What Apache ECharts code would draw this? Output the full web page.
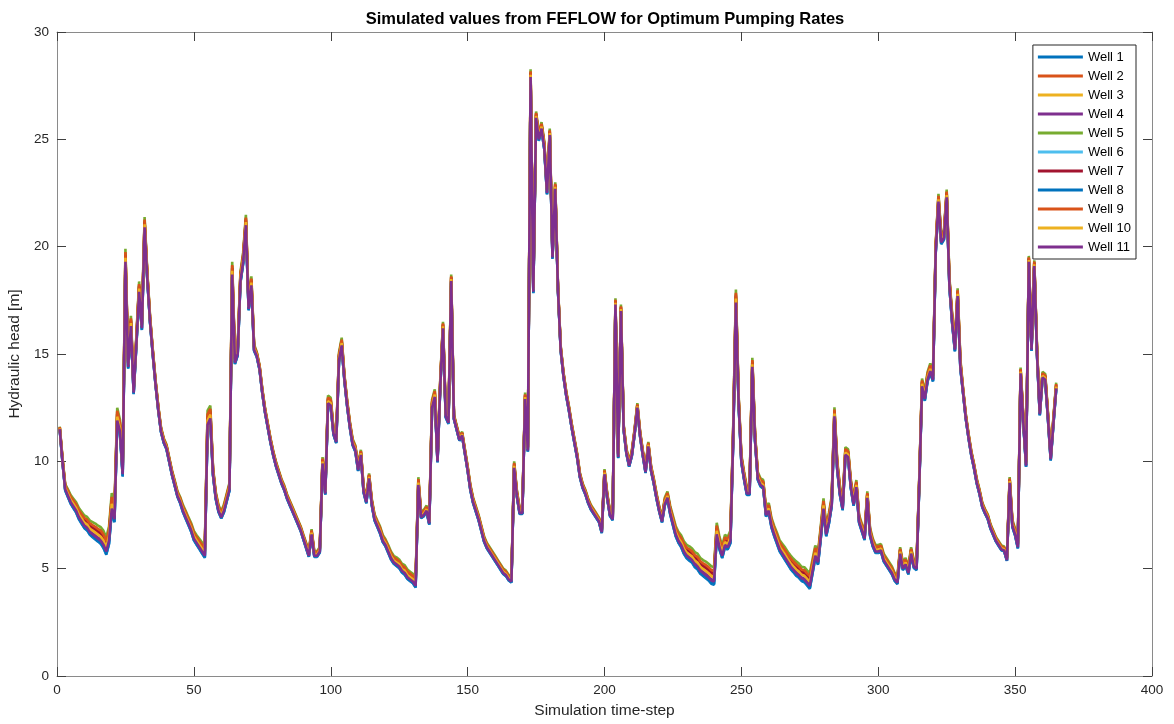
<!DOCTYPE html>
<html><head><meta charset="utf-8">
<script src="https://cdn.jsdelivr.net/npm/echarts@6/dist/echarts.min.js"></script>
<style>html,body{margin:0;padding:0;background:#fff}#c{width:1174px;height:724px}</style>
</head><body><div id="c"></div>
<script>
// Hydraulic head of Well 11 (drawn on top), one value per simulation time-step 1..365
const baseHead = [
11.5,10.0,8.7,8.4,8.1,7.9,7.7,7.4,7.2,7.0,
6.9,6.7,6.6,6.5,6.4,6.3,6.1,5.8,6.3,7.8,
7.3,11.9,11.4,9.4,19.3,14.4,16.3,13.2,15.5,17.9,
16.2,20.9,18.5,16.5,15.0,13.6,12.4,11.4,10.9,10.6,
10.0,9.4,8.9,8.4,8.1,7.7,7.4,7.1,6.8,6.4,
6.2,6.0,5.8,5.6,11.7,12.0,9.4,8.3,7.7,7.4,
7.7,8.2,8.7,18.7,14.6,15.0,18.4,19.3,21.0,17.1,
18.2,15.2,14.9,14.3,13.2,12.3,11.6,10.9,10.3,9.8,
9.4,9.0,8.7,8.3,8.0,7.7,7.4,7.1,6.8,6.4,
6.0,5.6,6.6,5.6,5.6,5.8,9.9,8.5,12.7,12.6,
11.3,10.9,14.7,15.4,13.8,12.6,11.6,10.8,10.5,9.6,
10.3,8.6,8.1,9.2,8.0,7.3,7.0,6.7,6.3,6.1,
5.8,5.5,5.3,5.2,5.1,4.9,4.8,4.6,4.5,4.4,
4.2,8.9,7.4,7.5,7.7,7.1,12.5,13.0,10.0,13.5,
16.2,12.1,11.8,18.4,12.0,11.5,11.0,11.2,10.4,9.6,
8.7,8.1,7.7,7.3,6.8,6.3,6.0,5.8,5.6,5.4,
5.2,5.0,4.8,4.7,4.5,4.4,9.7,8.4,7.6,7.6,
12.9,10.5,27.9,17.9,26.0,25.0,25.5,24.6,22.5,25.2,
19.5,22.7,18.0,15.2,14.0,13.1,12.4,11.6,10.9,10.2,
9.3,8.8,8.5,8.1,7.8,7.6,7.4,7.2,6.7,9.4,
8.3,7.5,7.3,17.3,10.2,17.0,11.5,10.4,9.8,10.3,
11.3,12.5,11.2,10.3,9.5,10.7,9.6,9.0,8.3,7.7,
7.2,8.0,8.3,7.6,7.1,6.6,6.3,6.1,5.8,5.6,
5.5,5.4,5.2,5.1,4.9,4.8,4.7,4.6,4.45,4.4,
6.6,6.0,5.6,6.1,6.0,6.3,11.0,17.4,12.7,10.0,
9.2,8.5,8.5,14.4,11.0,9.2,8.9,8.8,7.5,7.7,
7.0,6.6,6.25,5.9,5.7,5.5,5.3,5.1,4.95,4.8,
4.7,4.55,4.5,4.35,4.2,4.9,5.6,5.3,6.5,7.8,
6.6,7.2,8.0,12.1,9.7,8.5,7.8,10.3,10.2,8.8,
8.0,8.8,7.2,6.8,6.4,8.3,6.6,6.1,5.8,5.8,
5.85,5.4,5.2,5.0,4.8,4.5,4.35,5.7,5.0,5.2,
4.8,5.7,5.1,5.0,9.0,13.5,12.9,13.8,14.2,13.8,
19.8,22.1,20.2,20.4,22.3,18.2,16.5,15.2,17.7,14.4,
13.2,12.0,11.1,10.3,9.7,9.0,8.5,7.9,7.6,7.35,
6.9,6.6,6.3,6.1,5.9,5.85,5.4,9.0,7.0,6.6,
6.0,14.1,11.8,9.8,19.3,15.2,19.1,15.0,12.2,13.9,
13.8,12.0,10.1,11.8,13.4
];
// Thickness of the bundle of 11 well curves at each time-step (m)
const bundleSpread = [
0.2,0.3,0.4,0.5,0.55,0.6,0.65,0.7,0.75,0.8,
0.85,0.9,0.95,1.0,1.0,1.05,1.1,1.1,1.1,1.2,
1.0,1.0,0.9,0.8,1.0,0.6,0.8,0.5,0.6,0.8,
0.6,0.8,0.5,0.4,0.35,0.3,0.3,0.3,0.3,0.3,
0.3,0.3,0.35,0.35,0.4,0.45,0.5,0.5,0.55,0.6,
0.6,0.65,0.7,0.7,1.1,1.0,0.5,0.45,0.45,0.45,
0.5,0.5,0.5,1.0,0.5,0.5,0.7,0.7,0.8,0.5,
0.7,0.4,0.3,0.3,0.3,0.3,0.3,0.3,0.3,0.3,
0.3,0.3,0.3,0.3,0.3,0.3,0.3,0.3,0.3,0.3,
0.35,0.35,0.4,0.35,0.35,0.35,0.5,0.4,0.6,0.6,
0.4,0.4,0.6,0.6,0.4,0.4,0.4,0.4,0.4,0.4,
0.4,0.4,0.4,0.4,0.4,0.4,0.4,0.45,0.45,0.45,
0.5,0.5,0.5,0.55,0.55,0.55,0.6,0.6,0.6,0.6,
0.6,0.6,0.4,0.4,0.4,0.4,0.6,0.6,0.4,0.5,
0.5,0.4,0.4,0.5,0.3,0.3,0.3,0.3,0.3,0.3,
0.35,0.35,0.35,0.35,0.35,0.35,0.35,0.35,0.35,0.35,
0.35,0.35,0.35,0.35,0.35,0.35,0.5,0.4,0.4,0.4,
0.5,0.4,0.6,0.5,0.5,0.5,0.5,0.5,0.5,0.5,
0.5,0.5,0.3,0.3,0.3,0.3,0.3,0.3,0.3,0.3,
0.3,0.3,0.3,0.3,0.3,0.3,0.3,0.3,0.3,0.4,
0.35,0.35,0.35,0.5,0.4,0.5,0.35,0.35,0.35,0.35,
0.35,0.35,0.35,0.35,0.35,0.35,0.35,0.35,0.35,0.35,
0.35,0.5,0.5,0.55,0.6,0.65,0.7,0.75,0.8,0.85,
0.9,0.9,0.95,1.0,1.0,1.0,1.05,1.05,1.1,1.1,
0.9,0.8,0.8,0.8,0.8,0.8,0.8,1.0,0.6,0.5,
0.5,0.5,0.5,0.7,0.5,0.5,0.5,0.55,0.55,0.6,
0.6,0.65,0.7,0.7,0.75,0.8,0.8,0.85,0.85,0.9,
0.9,0.9,0.95,0.95,1.0,0.9,0.8,0.8,0.8,0.8,
0.7,0.7,0.6,0.7,0.6,0.6,0.6,0.6,0.6,0.55,
0.55,0.55,0.5,0.5,0.5,0.5,0.5,0.5,0.5,0.5,
0.5,0.5,0.5,0.5,0.5,0.5,0.5,0.5,0.5,0.5,
0.5,0.5,0.5,0.5,0.5,0.6,0.6,0.6,0.6,0.6,
0.6,0.6,0.6,0.6,0.6,0.6,0.6,0.6,0.6,0.6,
0.3,0.3,0.3,0.3,0.3,0.3,0.3,0.3,0.3,0.3,
0.3,0.3,0.3,0.3,0.3,0.3,0.3,0.45,0.45,0.45,
0.45,0.45,0.45,0.45,0.45,0.45,0.45,0.45,0.45,0.45,
0.45,0.45,0.45,0.45,0.45
];
const wellNames = ['Well 1','Well 2','Well 3','Well 4','Well 5','Well 6','Well 7','Well 8','Well 9','Well 10','Well 11'];
// position of each well inside the bundle (fraction of bundle thickness relative to Well 11)
const wellPosition = [-0.14,0.4,0.25,0.05,0.6,-0.08,0.32,-0.1,0.45,0.18,0];
const wellColors = ['#0072BD','#D95319','#EDB120','#7E2F8E','#77AC30','#4DBEEE','#A2142F','#0072BD','#D95319','#EDB120','#7E2F8E'];
const xTicks = {min:0, max:400, interval:50};
const yTicks = {min:0, max:30, interval:5};

const FONT = "'Liberation Sans', Arial, Helvetica, sans-serif";
const series = wellNames.map((name, i) => ({
  name: name,
  type: 'line',
  xAxisIndex: 0, yAxisIndex: 0,
  showSymbol: false,
  symbol: 'none',
  lineStyle: {width: 2.6, color: wellColors[i]},
  itemStyle: {color: wellColors[i]},
  z: 2 + i,
  data: baseHead.map((v, k) => [k + 1, +(v + wellPosition[i] * bundleSpread[k]).toFixed(3)])
}));

const axisLine = {show: true, onZero: false, lineStyle: {color: '#8a8a8a', width: 1}};
const axisTick = {show: true, inside: true, length: 9, lineStyle: {color: '#404040', width: 1}};
const labelStyle = {color: '#262626', fontFamily: FONT, fontSize: 13.5};

const chart = echarts.init(document.getElementById('c'), null, {renderer: 'canvas'});
chart.setOption({
  animation: false,
  backgroundColor: '#ffffff',
  title: {
    text: 'Simulated values from FEFLOW for Optimum Pumping Rates',
    left: 600, top: 6, textAlign: 'center',
    textStyle: {fontFamily: FONT, fontWeight: 'bold', fontSize: 16.5, color: '#000'}
  },
  legend: {
    orient: 'vertical', right: 38, top: 45,
    padding: [5, 5, 5, 5],
    backgroundColor: '#fff', borderColor: '#262626', borderWidth: 1,
    itemWidth: 45, itemHeight: 3, itemGap: 5, icon: 'rect',
    textStyle: {fontFamily: FONT, fontSize: 13, color: '#000', lineHeight: 14},
    data: wellNames
  },
  grid: {left: 57, right: 22, top: 32, bottom: 48, containLabel: false, outerBoundsMode: 'none'},
  xAxis: [
    Object.assign({type: 'value', position: 'bottom', axisLine, axisTick,
      splitLine: {show: false},
      axisLabel: Object.assign({margin: 7}, labelStyle),
      name: 'Simulation time-step', nameLocation: 'middle', nameGap: 27,
      nameTextStyle: {fontFamily: FONT, fontSize: 15.5, color: '#262626'}}, xTicks),
    Object.assign({type: 'value', position: 'top', axisLine, axisTick,
      splitLine: {show: false}, axisLabel: {show: false}}, xTicks)
  ],
  yAxis: [
    Object.assign({type: 'value', position: 'left', axisLine, axisTick,
      splitLine: {show: false},
      axisLabel: Object.assign({margin: 8}, labelStyle),
      name: 'Hydraulic head [m]', nameLocation: 'middle', nameGap: 26,
      nameTextStyle: {fontFamily: FONT, fontSize: 15.5, color: '#262626'}}, yTicks),
    Object.assign({type: 'value', position: 'right', axisLine, axisTick,
      splitLine: {show: false}, axisLabel: {show: false}}, yTicks)
  ],
  series: series
});
</script></body></html>
